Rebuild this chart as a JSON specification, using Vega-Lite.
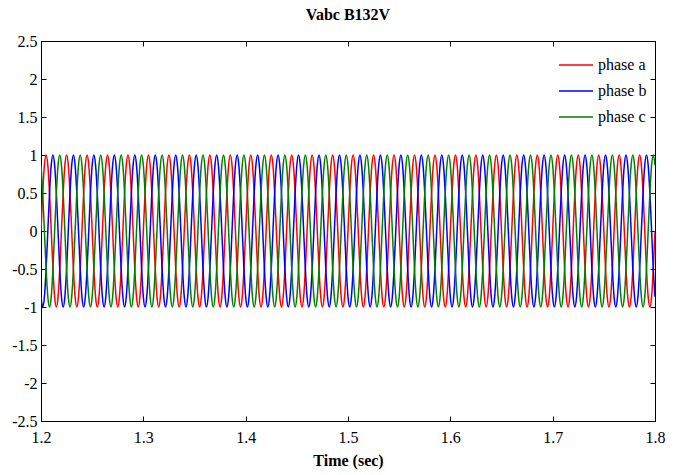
{
"$schema":"https://vega.github.io/schema/vega-lite/v6.json",
"autosize":"none",
"width":614,"height":380,
"padding":{"left":41,"top":41,"right":26,"bottom":54},
"background":"white",
"title":{"text":"Vabc B132V","fontSize":16,"fontWeight":"bold","font":"Liberation Serif","color":"black","offset":11,"dy":1},
"data":{"values":[
{"t":1.20,"a":0,"b":-0.866,"c":0.866},{"t":1.20167,"a":0.5,"b":-1,"c":0.5},{"t":1.20333,"a":0.866,"b":-0.866,"c":0},{"t":1.205,"a":1,"b":-0.5,"c":-0.5},{"t":1.20667,"a":0.866,"b":0,"c":-0.866},{"t":1.20833,"a":0.5,"b":0.5,"c":-1},{"t":1.21,"a":0,"b":0.866,"c":-0.866},{"t":1.21167,"a":-0.5,"b":1,"c":-0.5},{"t":1.21333,"a":-0.866,"b":0.866,"c":0},{"t":1.215,"a":-1,"b":0.5,"c":0.5},{"t":1.21667,"a":-0.866,"b":0,"c":0.866},{"t":1.21833,"a":-0.5,"b":-0.5,"c":1},
{"t":1.22,"a":0,"b":-0.866,"c":0.866},{"t":1.22167,"a":0.5,"b":-1,"c":0.5},{"t":1.22333,"a":0.866,"b":-0.866,"c":0},{"t":1.225,"a":1,"b":-0.5,"c":-0.5},{"t":1.22667,"a":0.866,"b":0,"c":-0.866},{"t":1.22833,"a":0.5,"b":0.5,"c":-1},{"t":1.23,"a":0,"b":0.866,"c":-0.866},{"t":1.23167,"a":-0.5,"b":1,"c":-0.5},{"t":1.23333,"a":-0.866,"b":0.866,"c":0},{"t":1.235,"a":-1,"b":0.5,"c":0.5},{"t":1.23667,"a":-0.866,"b":0,"c":0.866},{"t":1.23833,"a":-0.5,"b":-0.5,"c":1},
{"t":1.24,"a":0,"b":-0.866,"c":0.866},{"t":1.24167,"a":0.5,"b":-1,"c":0.5},{"t":1.24333,"a":0.866,"b":-0.866,"c":0},{"t":1.245,"a":1,"b":-0.5,"c":-0.5},{"t":1.24667,"a":0.866,"b":0,"c":-0.866},{"t":1.24833,"a":0.5,"b":0.5,"c":-1},{"t":1.25,"a":0,"b":0.866,"c":-0.866},{"t":1.25167,"a":-0.5,"b":1,"c":-0.5},{"t":1.25333,"a":-0.866,"b":0.866,"c":0},{"t":1.255,"a":-1,"b":0.5,"c":0.5},{"t":1.25667,"a":-0.866,"b":0,"c":0.866},{"t":1.25833,"a":-0.5,"b":-0.5,"c":1},
{"t":1.26,"a":0,"b":-0.866,"c":0.866},{"t":1.26167,"a":0.5,"b":-1,"c":0.5},{"t":1.26333,"a":0.866,"b":-0.866,"c":0},{"t":1.265,"a":1,"b":-0.5,"c":-0.5},{"t":1.26667,"a":0.866,"b":0,"c":-0.866},{"t":1.26833,"a":0.5,"b":0.5,"c":-1},{"t":1.27,"a":0,"b":0.866,"c":-0.866},{"t":1.27167,"a":-0.5,"b":1,"c":-0.5},{"t":1.27333,"a":-0.866,"b":0.866,"c":0},{"t":1.275,"a":-1,"b":0.5,"c":0.5},{"t":1.27667,"a":-0.866,"b":0,"c":0.866},{"t":1.27833,"a":-0.5,"b":-0.5,"c":1},
{"t":1.28,"a":0,"b":-0.866,"c":0.866},{"t":1.28167,"a":0.5,"b":-1,"c":0.5},{"t":1.28333,"a":0.866,"b":-0.866,"c":0},{"t":1.285,"a":1,"b":-0.5,"c":-0.5},{"t":1.28667,"a":0.866,"b":0,"c":-0.866},{"t":1.28833,"a":0.5,"b":0.5,"c":-1},{"t":1.29,"a":0,"b":0.866,"c":-0.866},{"t":1.29167,"a":-0.5,"b":1,"c":-0.5},{"t":1.29333,"a":-0.866,"b":0.866,"c":0},{"t":1.295,"a":-1,"b":0.5,"c":0.5},{"t":1.29667,"a":-0.866,"b":0,"c":0.866},{"t":1.29833,"a":-0.5,"b":-0.5,"c":1},
{"t":1.30,"a":0,"b":-0.866,"c":0.866},{"t":1.30167,"a":0.5,"b":-1,"c":0.5},{"t":1.30333,"a":0.866,"b":-0.866,"c":0},{"t":1.305,"a":1,"b":-0.5,"c":-0.5},{"t":1.30667,"a":0.866,"b":0,"c":-0.866},{"t":1.30833,"a":0.5,"b":0.5,"c":-1},{"t":1.31,"a":0,"b":0.866,"c":-0.866},{"t":1.31167,"a":-0.5,"b":1,"c":-0.5},{"t":1.31333,"a":-0.866,"b":0.866,"c":0},{"t":1.315,"a":-1,"b":0.5,"c":0.5},{"t":1.31667,"a":-0.866,"b":0,"c":0.866},{"t":1.31833,"a":-0.5,"b":-0.5,"c":1},
{"t":1.32,"a":0,"b":-0.866,"c":0.866},{"t":1.32167,"a":0.5,"b":-1,"c":0.5},{"t":1.32333,"a":0.866,"b":-0.866,"c":0},{"t":1.325,"a":1,"b":-0.5,"c":-0.5},{"t":1.32667,"a":0.866,"b":0,"c":-0.866},{"t":1.32833,"a":0.5,"b":0.5,"c":-1},{"t":1.33,"a":0,"b":0.866,"c":-0.866},{"t":1.33167,"a":-0.5,"b":1,"c":-0.5},{"t":1.33333,"a":-0.866,"b":0.866,"c":0},{"t":1.335,"a":-1,"b":0.5,"c":0.5},{"t":1.33667,"a":-0.866,"b":0,"c":0.866},{"t":1.33833,"a":-0.5,"b":-0.5,"c":1},
{"t":1.34,"a":0,"b":-0.866,"c":0.866},{"t":1.34167,"a":0.5,"b":-1,"c":0.5},{"t":1.34333,"a":0.866,"b":-0.866,"c":0},{"t":1.345,"a":1,"b":-0.5,"c":-0.5},{"t":1.34667,"a":0.866,"b":0,"c":-0.866},{"t":1.34833,"a":0.5,"b":0.5,"c":-1},{"t":1.35,"a":0,"b":0.866,"c":-0.866},{"t":1.35167,"a":-0.5,"b":1,"c":-0.5},{"t":1.35333,"a":-0.866,"b":0.866,"c":0},{"t":1.355,"a":-1,"b":0.5,"c":0.5},{"t":1.35667,"a":-0.866,"b":0,"c":0.866},{"t":1.35833,"a":-0.5,"b":-0.5,"c":1},
{"t":1.36,"a":0,"b":-0.866,"c":0.866},{"t":1.36167,"a":0.5,"b":-1,"c":0.5},{"t":1.36333,"a":0.866,"b":-0.866,"c":0},{"t":1.365,"a":1,"b":-0.5,"c":-0.5},{"t":1.36667,"a":0.866,"b":0,"c":-0.866},{"t":1.36833,"a":0.5,"b":0.5,"c":-1},{"t":1.37,"a":0,"b":0.866,"c":-0.866},{"t":1.37167,"a":-0.5,"b":1,"c":-0.5},{"t":1.37333,"a":-0.866,"b":0.866,"c":0},{"t":1.375,"a":-1,"b":0.5,"c":0.5},{"t":1.37667,"a":-0.866,"b":0,"c":0.866},{"t":1.37833,"a":-0.5,"b":-0.5,"c":1},
{"t":1.38,"a":0,"b":-0.866,"c":0.866},{"t":1.38167,"a":0.5,"b":-1,"c":0.5},{"t":1.38333,"a":0.866,"b":-0.866,"c":0},{"t":1.385,"a":1,"b":-0.5,"c":-0.5},{"t":1.38667,"a":0.866,"b":0,"c":-0.866},{"t":1.38833,"a":0.5,"b":0.5,"c":-1},{"t":1.39,"a":0,"b":0.866,"c":-0.866},{"t":1.39167,"a":-0.5,"b":1,"c":-0.5},{"t":1.39333,"a":-0.866,"b":0.866,"c":0},{"t":1.395,"a":-1,"b":0.5,"c":0.5},{"t":1.39667,"a":-0.866,"b":0,"c":0.866},{"t":1.39833,"a":-0.5,"b":-0.5,"c":1},
{"t":1.40,"a":0,"b":-0.866,"c":0.866},{"t":1.40167,"a":0.5,"b":-1,"c":0.5},{"t":1.40333,"a":0.866,"b":-0.866,"c":0},{"t":1.405,"a":1,"b":-0.5,"c":-0.5},{"t":1.40667,"a":0.866,"b":0,"c":-0.866},{"t":1.40833,"a":0.5,"b":0.5,"c":-1},{"t":1.41,"a":0,"b":0.866,"c":-0.866},{"t":1.41167,"a":-0.5,"b":1,"c":-0.5},{"t":1.41333,"a":-0.866,"b":0.866,"c":0},{"t":1.415,"a":-1,"b":0.5,"c":0.5},{"t":1.41667,"a":-0.866,"b":0,"c":0.866},{"t":1.41833,"a":-0.5,"b":-0.5,"c":1},
{"t":1.42,"a":0,"b":-0.866,"c":0.866},{"t":1.42167,"a":0.5,"b":-1,"c":0.5},{"t":1.42333,"a":0.866,"b":-0.866,"c":0},{"t":1.425,"a":1,"b":-0.5,"c":-0.5},{"t":1.42667,"a":0.866,"b":0,"c":-0.866},{"t":1.42833,"a":0.5,"b":0.5,"c":-1},{"t":1.43,"a":0,"b":0.866,"c":-0.866},{"t":1.43167,"a":-0.5,"b":1,"c":-0.5},{"t":1.43333,"a":-0.866,"b":0.866,"c":0},{"t":1.435,"a":-1,"b":0.5,"c":0.5},{"t":1.43667,"a":-0.866,"b":0,"c":0.866},{"t":1.43833,"a":-0.5,"b":-0.5,"c":1},
{"t":1.44,"a":0,"b":-0.866,"c":0.866},{"t":1.44167,"a":0.5,"b":-1,"c":0.5},{"t":1.44333,"a":0.866,"b":-0.866,"c":0},{"t":1.445,"a":1,"b":-0.5,"c":-0.5},{"t":1.44667,"a":0.866,"b":0,"c":-0.866},{"t":1.44833,"a":0.5,"b":0.5,"c":-1},{"t":1.45,"a":0,"b":0.866,"c":-0.866},{"t":1.45167,"a":-0.5,"b":1,"c":-0.5},{"t":1.45333,"a":-0.866,"b":0.866,"c":0},{"t":1.455,"a":-1,"b":0.5,"c":0.5},{"t":1.45667,"a":-0.866,"b":0,"c":0.866},{"t":1.45833,"a":-0.5,"b":-0.5,"c":1},
{"t":1.46,"a":0,"b":-0.866,"c":0.866},{"t":1.46167,"a":0.5,"b":-1,"c":0.5},{"t":1.46333,"a":0.866,"b":-0.866,"c":0},{"t":1.465,"a":1,"b":-0.5,"c":-0.5},{"t":1.46667,"a":0.866,"b":0,"c":-0.866},{"t":1.46833,"a":0.5,"b":0.5,"c":-1},{"t":1.47,"a":0,"b":0.866,"c":-0.866},{"t":1.47167,"a":-0.5,"b":1,"c":-0.5},{"t":1.47333,"a":-0.866,"b":0.866,"c":0},{"t":1.475,"a":-1,"b":0.5,"c":0.5},{"t":1.47667,"a":-0.866,"b":0,"c":0.866},{"t":1.47833,"a":-0.5,"b":-0.5,"c":1},
{"t":1.48,"a":0,"b":-0.866,"c":0.866},{"t":1.48167,"a":0.5,"b":-1,"c":0.5},{"t":1.48333,"a":0.866,"b":-0.866,"c":0},{"t":1.485,"a":1,"b":-0.5,"c":-0.5},{"t":1.48667,"a":0.866,"b":0,"c":-0.866},{"t":1.48833,"a":0.5,"b":0.5,"c":-1},{"t":1.49,"a":0,"b":0.866,"c":-0.866},{"t":1.49167,"a":-0.5,"b":1,"c":-0.5},{"t":1.49333,"a":-0.866,"b":0.866,"c":0},{"t":1.495,"a":-1,"b":0.5,"c":0.5},{"t":1.49667,"a":-0.866,"b":0,"c":0.866},{"t":1.49833,"a":-0.5,"b":-0.5,"c":1},
{"t":1.50,"a":0,"b":-0.866,"c":0.866},{"t":1.50167,"a":0.5,"b":-1,"c":0.5},{"t":1.50333,"a":0.866,"b":-0.866,"c":0},{"t":1.505,"a":1,"b":-0.5,"c":-0.5},{"t":1.50667,"a":0.866,"b":0,"c":-0.866},{"t":1.50833,"a":0.5,"b":0.5,"c":-1},{"t":1.51,"a":0,"b":0.866,"c":-0.866},{"t":1.51167,"a":-0.5,"b":1,"c":-0.5},{"t":1.51333,"a":-0.866,"b":0.866,"c":0},{"t":1.515,"a":-1,"b":0.5,"c":0.5},{"t":1.51667,"a":-0.866,"b":0,"c":0.866},{"t":1.51833,"a":-0.5,"b":-0.5,"c":1},
{"t":1.52,"a":0,"b":-0.866,"c":0.866},{"t":1.52167,"a":0.5,"b":-1,"c":0.5},{"t":1.52333,"a":0.866,"b":-0.866,"c":0},{"t":1.525,"a":1,"b":-0.5,"c":-0.5},{"t":1.52667,"a":0.866,"b":0,"c":-0.866},{"t":1.52833,"a":0.5,"b":0.5,"c":-1},{"t":1.53,"a":0,"b":0.866,"c":-0.866},{"t":1.53167,"a":-0.5,"b":1,"c":-0.5},{"t":1.53333,"a":-0.866,"b":0.866,"c":0},{"t":1.535,"a":-1,"b":0.5,"c":0.5},{"t":1.53667,"a":-0.866,"b":0,"c":0.866},{"t":1.53833,"a":-0.5,"b":-0.5,"c":1},
{"t":1.54,"a":0,"b":-0.866,"c":0.866},{"t":1.54167,"a":0.5,"b":-1,"c":0.5},{"t":1.54333,"a":0.866,"b":-0.866,"c":0},{"t":1.545,"a":1,"b":-0.5,"c":-0.5},{"t":1.54667,"a":0.866,"b":0,"c":-0.866},{"t":1.54833,"a":0.5,"b":0.5,"c":-1},{"t":1.55,"a":0,"b":0.866,"c":-0.866},{"t":1.55167,"a":-0.5,"b":1,"c":-0.5},{"t":1.55333,"a":-0.866,"b":0.866,"c":0},{"t":1.555,"a":-1,"b":0.5,"c":0.5},{"t":1.55667,"a":-0.866,"b":0,"c":0.866},{"t":1.55833,"a":-0.5,"b":-0.5,"c":1},
{"t":1.56,"a":0,"b":-0.866,"c":0.866},{"t":1.56167,"a":0.5,"b":-1,"c":0.5},{"t":1.56333,"a":0.866,"b":-0.866,"c":0},{"t":1.565,"a":1,"b":-0.5,"c":-0.5},{"t":1.56667,"a":0.866,"b":0,"c":-0.866},{"t":1.56833,"a":0.5,"b":0.5,"c":-1},{"t":1.57,"a":0,"b":0.866,"c":-0.866},{"t":1.57167,"a":-0.5,"b":1,"c":-0.5},{"t":1.57333,"a":-0.866,"b":0.866,"c":0},{"t":1.575,"a":-1,"b":0.5,"c":0.5},{"t":1.57667,"a":-0.866,"b":0,"c":0.866},{"t":1.57833,"a":-0.5,"b":-0.5,"c":1},
{"t":1.58,"a":0,"b":-0.866,"c":0.866},{"t":1.58167,"a":0.5,"b":-1,"c":0.5},{"t":1.58333,"a":0.866,"b":-0.866,"c":0},{"t":1.585,"a":1,"b":-0.5,"c":-0.5},{"t":1.58667,"a":0.866,"b":0,"c":-0.866},{"t":1.58833,"a":0.5,"b":0.5,"c":-1},{"t":1.59,"a":0,"b":0.866,"c":-0.866},{"t":1.59167,"a":-0.5,"b":1,"c":-0.5},{"t":1.59333,"a":-0.866,"b":0.866,"c":0},{"t":1.595,"a":-1,"b":0.5,"c":0.5},{"t":1.59667,"a":-0.866,"b":0,"c":0.866},{"t":1.59833,"a":-0.5,"b":-0.5,"c":1},
{"t":1.60,"a":0,"b":-0.866,"c":0.866},{"t":1.60167,"a":0.5,"b":-1,"c":0.5},{"t":1.60333,"a":0.866,"b":-0.866,"c":0},{"t":1.605,"a":1,"b":-0.5,"c":-0.5},{"t":1.60667,"a":0.866,"b":0,"c":-0.866},{"t":1.60833,"a":0.5,"b":0.5,"c":-1},{"t":1.61,"a":0,"b":0.866,"c":-0.866},{"t":1.61167,"a":-0.5,"b":1,"c":-0.5},{"t":1.61333,"a":-0.866,"b":0.866,"c":0},{"t":1.615,"a":-1,"b":0.5,"c":0.5},{"t":1.61667,"a":-0.866,"b":0,"c":0.866},{"t":1.61833,"a":-0.5,"b":-0.5,"c":1},
{"t":1.62,"a":0,"b":-0.866,"c":0.866},{"t":1.62167,"a":0.5,"b":-1,"c":0.5},{"t":1.62333,"a":0.866,"b":-0.866,"c":0},{"t":1.625,"a":1,"b":-0.5,"c":-0.5},{"t":1.62667,"a":0.866,"b":0,"c":-0.866},{"t":1.62833,"a":0.5,"b":0.5,"c":-1},{"t":1.63,"a":0,"b":0.866,"c":-0.866},{"t":1.63167,"a":-0.5,"b":1,"c":-0.5},{"t":1.63333,"a":-0.866,"b":0.866,"c":0},{"t":1.635,"a":-1,"b":0.5,"c":0.5},{"t":1.63667,"a":-0.866,"b":0,"c":0.866},{"t":1.63833,"a":-0.5,"b":-0.5,"c":1},
{"t":1.64,"a":0,"b":-0.866,"c":0.866},{"t":1.64167,"a":0.5,"b":-1,"c":0.5},{"t":1.64333,"a":0.866,"b":-0.866,"c":0},{"t":1.645,"a":1,"b":-0.5,"c":-0.5},{"t":1.64667,"a":0.866,"b":0,"c":-0.866},{"t":1.64833,"a":0.5,"b":0.5,"c":-1},{"t":1.65,"a":0,"b":0.866,"c":-0.866},{"t":1.65167,"a":-0.5,"b":1,"c":-0.5},{"t":1.65333,"a":-0.866,"b":0.866,"c":0},{"t":1.655,"a":-1,"b":0.5,"c":0.5},{"t":1.65667,"a":-0.866,"b":0,"c":0.866},{"t":1.65833,"a":-0.5,"b":-0.5,"c":1},
{"t":1.66,"a":0,"b":-0.866,"c":0.866},{"t":1.66167,"a":0.5,"b":-1,"c":0.5},{"t":1.66333,"a":0.866,"b":-0.866,"c":0},{"t":1.665,"a":1,"b":-0.5,"c":-0.5},{"t":1.66667,"a":0.866,"b":0,"c":-0.866},{"t":1.66833,"a":0.5,"b":0.5,"c":-1},{"t":1.67,"a":0,"b":0.866,"c":-0.866},{"t":1.67167,"a":-0.5,"b":1,"c":-0.5},{"t":1.67333,"a":-0.866,"b":0.866,"c":0},{"t":1.675,"a":-1,"b":0.5,"c":0.5},{"t":1.67667,"a":-0.866,"b":0,"c":0.866},{"t":1.67833,"a":-0.5,"b":-0.5,"c":1},
{"t":1.68,"a":0,"b":-0.866,"c":0.866},{"t":1.68167,"a":0.5,"b":-1,"c":0.5},{"t":1.68333,"a":0.866,"b":-0.866,"c":0},{"t":1.685,"a":1,"b":-0.5,"c":-0.5},{"t":1.68667,"a":0.866,"b":0,"c":-0.866},{"t":1.68833,"a":0.5,"b":0.5,"c":-1},{"t":1.69,"a":0,"b":0.866,"c":-0.866},{"t":1.69167,"a":-0.5,"b":1,"c":-0.5},{"t":1.69333,"a":-0.866,"b":0.866,"c":0},{"t":1.695,"a":-1,"b":0.5,"c":0.5},{"t":1.69667,"a":-0.866,"b":0,"c":0.866},{"t":1.69833,"a":-0.5,"b":-0.5,"c":1},
{"t":1.70,"a":0,"b":-0.866,"c":0.866},{"t":1.70167,"a":0.5,"b":-1,"c":0.5},{"t":1.70333,"a":0.866,"b":-0.866,"c":0},{"t":1.705,"a":1,"b":-0.5,"c":-0.5},{"t":1.70667,"a":0.866,"b":0,"c":-0.866},{"t":1.70833,"a":0.5,"b":0.5,"c":-1},{"t":1.71,"a":0,"b":0.866,"c":-0.866},{"t":1.71167,"a":-0.5,"b":1,"c":-0.5},{"t":1.71333,"a":-0.866,"b":0.866,"c":0},{"t":1.715,"a":-1,"b":0.5,"c":0.5},{"t":1.71667,"a":-0.866,"b":0,"c":0.866},{"t":1.71833,"a":-0.5,"b":-0.5,"c":1},
{"t":1.72,"a":0,"b":-0.866,"c":0.866},{"t":1.72167,"a":0.5,"b":-1,"c":0.5},{"t":1.72333,"a":0.866,"b":-0.866,"c":0},{"t":1.725,"a":1,"b":-0.5,"c":-0.5},{"t":1.72667,"a":0.866,"b":0,"c":-0.866},{"t":1.72833,"a":0.5,"b":0.5,"c":-1},{"t":1.73,"a":0,"b":0.866,"c":-0.866},{"t":1.73167,"a":-0.5,"b":1,"c":-0.5},{"t":1.73333,"a":-0.866,"b":0.866,"c":0},{"t":1.735,"a":-1,"b":0.5,"c":0.5},{"t":1.73667,"a":-0.866,"b":0,"c":0.866},{"t":1.73833,"a":-0.5,"b":-0.5,"c":1},
{"t":1.74,"a":0,"b":-0.866,"c":0.866},{"t":1.74167,"a":0.5,"b":-1,"c":0.5},{"t":1.74333,"a":0.866,"b":-0.866,"c":0},{"t":1.745,"a":1,"b":-0.5,"c":-0.5},{"t":1.74667,"a":0.866,"b":0,"c":-0.866},{"t":1.74833,"a":0.5,"b":0.5,"c":-1},{"t":1.75,"a":0,"b":0.866,"c":-0.866},{"t":1.75167,"a":-0.5,"b":1,"c":-0.5},{"t":1.75333,"a":-0.866,"b":0.866,"c":0},{"t":1.755,"a":-1,"b":0.5,"c":0.5},{"t":1.75667,"a":-0.866,"b":0,"c":0.866},{"t":1.75833,"a":-0.5,"b":-0.5,"c":1},
{"t":1.76,"a":0,"b":-0.866,"c":0.866},{"t":1.76167,"a":0.5,"b":-1,"c":0.5},{"t":1.76333,"a":0.866,"b":-0.866,"c":0},{"t":1.765,"a":1,"b":-0.5,"c":-0.5},{"t":1.76667,"a":0.866,"b":0,"c":-0.866},{"t":1.76833,"a":0.5,"b":0.5,"c":-1},{"t":1.77,"a":0,"b":0.866,"c":-0.866},{"t":1.77167,"a":-0.5,"b":1,"c":-0.5},{"t":1.77333,"a":-0.866,"b":0.866,"c":0},{"t":1.775,"a":-1,"b":0.5,"c":0.5},{"t":1.77667,"a":-0.866,"b":0,"c":0.866},{"t":1.77833,"a":-0.5,"b":-0.5,"c":1},
{"t":1.78,"a":0,"b":-0.866,"c":0.866},{"t":1.78167,"a":0.5,"b":-1,"c":0.5},{"t":1.78333,"a":0.866,"b":-0.866,"c":0},{"t":1.785,"a":1,"b":-0.5,"c":-0.5},{"t":1.78667,"a":0.866,"b":0,"c":-0.866},{"t":1.78833,"a":0.5,"b":0.5,"c":-1},{"t":1.79,"a":0,"b":0.866,"c":-0.866},{"t":1.79167,"a":-0.5,"b":1,"c":-0.5},{"t":1.79333,"a":-0.866,"b":0.866,"c":0},{"t":1.795,"a":-1,"b":0.5,"c":0.5},{"t":1.79667,"a":-0.866,"b":0,"c":0.866},{"t":1.79833,"a":-0.5,"b":-0.5,"c":1},
{"t":1.80,"a":0,"b":-0.866,"c":0.866}
]},
"transform":[{"fold":["a","b","c"],"as":["phase","v"]}],
"layer":[
{"mark":{"type":"line","interpolate":"monotone","strokeWidth":1.5,"clip":true},
 "encoding":{
  "x":{"field":"t","type":"quantitative","scale":{"domain":[1.2,1.8],"nice":false,"zero":false},
       "axis":{"orient":"bottom","values":[1.2,1.3,1.4,1.5,1.6,1.7,1.8],"labelExpr":"'' + datum.value","labelFont":"Liberation Serif","labelFontSize":16,"tickSize":-5,"labelPadding":13,"labelFlush":false,"title":"Time (sec)","titleFont":"Liberation Serif","titleFontSize":16,"titleFontWeight":"bold","titlePadding":7}},
  "y":{"field":"v","type":"quantitative","scale":{"domain":[-2.5,2.5],"nice":false,"zero":false},
       "axis":{"orient":"left","values":[-2.5,-2,-1.5,-1,-0.5,0,0.5,1,1.5,2,2.5],"labelExpr":"'' + datum.value","labelFont":"Liberation Serif","labelFontSize":16,"tickSize":-5,"labelPadding":9,"labelFlush":false,"title":null}},
  "color":{"field":"phase","type":"nominal","scale":{"domain":["a","b","c"],"range":["#ff0000","#0000ff","#008000"]},
       "legend":{"orient":"none","legendX":517,"legendY":6,"title":null,"symbolType":"stroke","symbolSize":1156,"symbolStrokeWidth":1.5,"labelExpr":"'phase ' + datum.label","labelFontSize":16,"labelFont":"Liberation Serif","labelColor":"black","rowPadding":-5,"labelOffset":4,"padding":0}}
 }},
{"mark":{"type":"line","opacity":0},
 "encoding":{
  "x":{"field":"t","type":"quantitative","axis":{"orient":"top","values":[1.2,1.3,1.4,1.5,1.6,1.7,1.8],"labels":false,"domain":false,"tickSize":-5,"title":null}},
  "y":{"field":"v","type":"quantitative","axis":{"orient":"right","values":[-2.5,-2,-1.5,-1,-0.5,0,0.5,1,1.5,2,2.5],"labels":false,"domain":false,"tickSize":-5,"title":null}},
  "detail":{"field":"phase"}
 }}
],
"resolve":{"axis":{"x":"independent","y":"independent"}},
"config":{
 "view":{"stroke":"black","strokeWidth":1},
 "axis":{"grid":false,"domainColor":"black","tickColor":"black","labelColor":"black","titleColor":"black"}
}
}
